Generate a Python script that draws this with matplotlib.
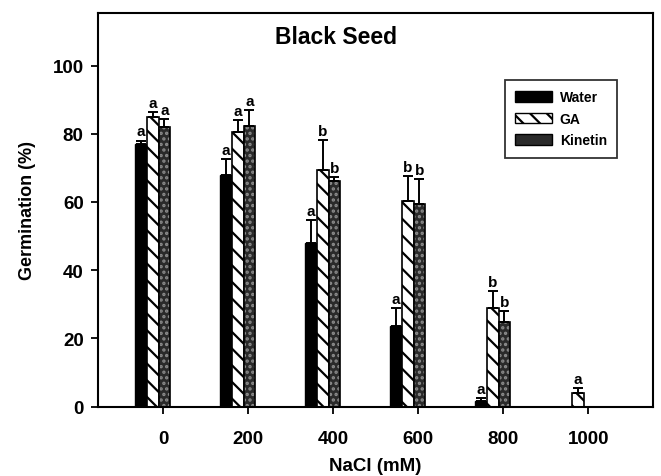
import numpy as np
import matplotlib
matplotlib.use("Agg")
import matplotlib.pyplot as plt
from matplotlib.patches import Patch

plt.rcParams['font.family'] = ['Liberation Sans', 'DejaVu Sans']
plt.rcParams['font.weight'] = 'bold'
plt.rcParams['hatch.linewidth'] = 1.6

categories = ['0', '200', '400', '600', '800', '1000']
water = [77.0, 68.0, 48.0, 23.5, 1.5, 0.0]
water_err = [1.0, 4.7, 6.6, 5.5, 1.1, 0.0]
ga = [85.0, 80.4, 69.3, 60.4, 28.9, 4.1]
ga_err = [1.3, 3.6, 8.8, 7.2, 5.1, 1.2]
kinetin = [82.1, 82.3, 66.2, 59.4, 24.8, 0.0]
kinetin_err = [2.3, 4.6, 1.0, 7.4, 3.1, 0.0]
water_letters = ['a', 'a', 'a', 'a', 'a', '']
ga_letters = ['a', 'a', 'b', 'b', 'b', 'a']
kinetin_letters = ['a', 'a', 'b', 'b', 'b', '']

fig = plt.figure(figsize=(6.61, 4.77), dpi=100)
ax = fig.add_axes([98/661, 1-407.5/477, (653-98)/661, (407.5-14)/477])

x = np.arange(len(categories))
w = 0.137
shift = -0.125
pos_w = x + shift - w
pos_g = x + shift
pos_k = x + shift + w

KIN_FACE = '#2a2a2a'
KIN_DOT = '#8c8c8c'

# Water
ax.bar(pos_w, water, width=w, color='black', edgecolor='black', linewidth=1)
# GA
ax.bar(pos_g, ga, width=w, color='white', edgecolor='black', hatch='\\\\', linewidth=1.2)
# Kinetin: stippled
ax.bar(pos_k, kinetin, width=w, color=KIN_FACE, edgecolor=KIN_DOT, hatch='...', linewidth=0)
ax.bar(pos_k, kinetin, width=w, fill=False, edgecolor='black', linewidth=1.2)

for pos, vals, errs, letters in [(pos_w, water, water_err, water_letters),
                                 (pos_g, ga, ga_err, ga_letters),
                                 (pos_k, kinetin, kinetin_err, kinetin_letters)]:
    for p, v, e, l in zip(pos, vals, errs, letters):
        if e > 0:
            ax.errorbar(p, v, yerr=[[0], [e]], fmt='none', ecolor='black',
                        elinewidth=1.4, capsize=3.5, capthick=1.4)
        if l:
            ax.text(p, v + e + 0.6, l, ha='center', va='bottom', fontsize=11,
                    fontweight='bold')

ax.set_xlim(-0.77, 5.76)
ax.set_ylim(0, 115.4)
ax.set_xticks(x)
ax.set_xticklabels(categories)
ax.set_yticks([0, 20, 40, 60, 80, 100])
ax.tick_params(axis='both', direction='out', labelsize=13.5, width=1.3, colors='black')
ax.tick_params(axis='y', length=5.3, pad=5)
ax.tick_params(axis='x', length=5, pad=12)
for s in ax.spines.values():
    s.set_linewidth(1.5)

ax.set_xlabel('NaCl (mM)', fontsize=13.5, fontweight='bold', labelpad=7)
ax.set_ylabel('Germination (%)', fontsize=13, fontweight='bold', labelpad=12)

fig.text(336/661, 1-37/477, 'Black Seed', fontsize=16.5, fontweight='bold',
         ha='center', va='center')

handles = [Patch(facecolor='black', edgecolor='black', label='Water'),
           Patch(facecolor='white', edgecolor='black', hatch='\\\\', label='GA'),
           Patch(facecolor=KIN_FACE, edgecolor='black', label='Kinetin')]
leg = fig.legend(handles=handles, loc='upper left', bbox_to_anchor=(505/661, 1-80.7/477),
                 prop={'size': 10, 'weight': 'bold'}, frameon=True, fancybox=False,
                 edgecolor='black', handlelength=2.6, handleheight=0.8, handletextpad=0.6,
                 labelspacing=0.55, borderpad=0.75, borderaxespad=0)
leg.get_frame().set_linewidth(1.3)

fig.savefig('out.png', dpi=100)
